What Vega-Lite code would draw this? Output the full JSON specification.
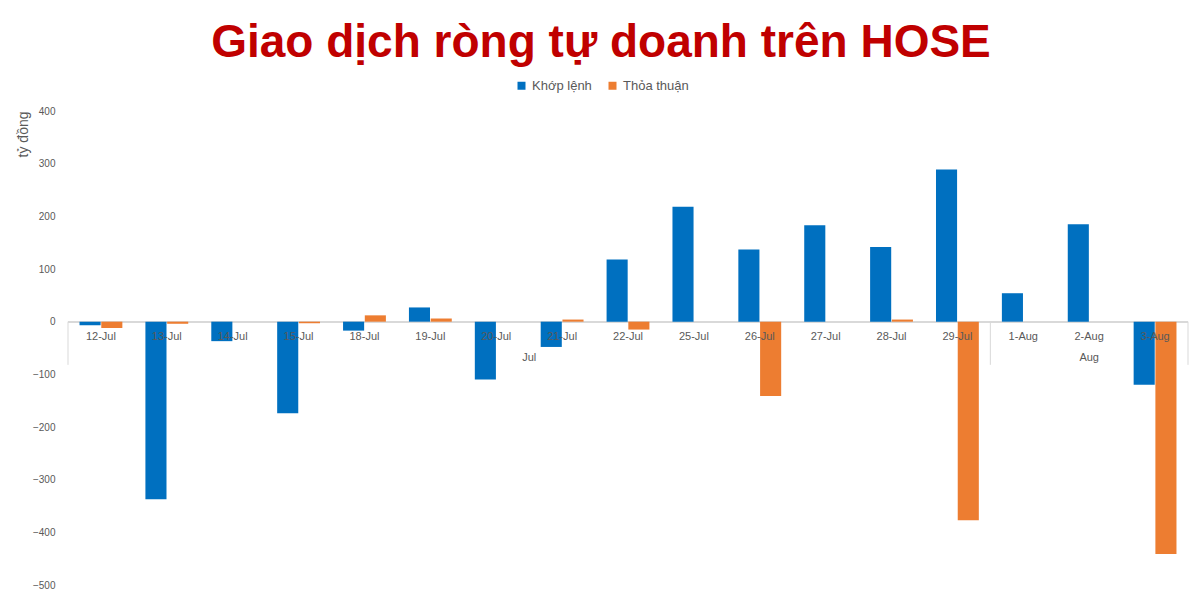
{
  "$schema": "https://vega.github.io/schema/vega-lite/v6.json",
  "autosize": {"type": "none"},
  "padding": {"left": 68, "top": 111, "right": 12, "bottom": 15},
  "width": 1120,
  "height": 474,
  "background": "white",
  "title": {
    "text": "Giao dịch ròng tự doanh trên HOSE",
    "font": "Liberation Sans",
    "fontSize": 46,
    "fontWeight": "bold",
    "color": "#c00000",
    "anchor": "middle",
    "dx": -27,
    "offset": 12
  },
  "config": {
    "view": {"stroke": null},
    "font": "Liberation Sans"
  },
  "datasets": {
    "net": [
      {"date": "12-Jul", "series": "Khớp lệnh", "value": -7},
      {"date": "13-Jul", "series": "Khớp lệnh", "value": -337},
      {"date": "14-Jul", "series": "Khớp lệnh", "value": -37},
      {"date": "15-Jul", "series": "Khớp lệnh", "value": -174},
      {"date": "18-Jul", "series": "Khớp lệnh", "value": -17},
      {"date": "19-Jul", "series": "Khớp lệnh", "value": 27},
      {"date": "20-Jul", "series": "Khớp lệnh", "value": -110},
      {"date": "21-Jul", "series": "Khớp lệnh", "value": -48},
      {"date": "22-Jul", "series": "Khớp lệnh", "value": 118},
      {"date": "25-Jul", "series": "Khớp lệnh", "value": 218},
      {"date": "26-Jul", "series": "Khớp lệnh", "value": 137},
      {"date": "27-Jul", "series": "Khớp lệnh", "value": 183},
      {"date": "28-Jul", "series": "Khớp lệnh", "value": 142},
      {"date": "29-Jul", "series": "Khớp lệnh", "value": 289},
      {"date": "1-Aug", "series": "Khớp lệnh", "value": 54},
      {"date": "2-Aug", "series": "Khớp lệnh", "value": 185},
      {"date": "3-Aug", "series": "Khớp lệnh", "value": -120},
      {"date": "12-Jul", "series": "Thỏa thuận", "value": -12},
      {"date": "13-Jul", "series": "Thỏa thuận", "value": -4},
      {"date": "14-Jul", "series": "Thỏa thuận", "value": 0},
      {"date": "15-Jul", "series": "Thỏa thuận", "value": -3},
      {"date": "18-Jul", "series": "Thỏa thuận", "value": 12},
      {"date": "19-Jul", "series": "Thỏa thuận", "value": 6},
      {"date": "20-Jul", "series": "Thỏa thuận", "value": 0},
      {"date": "21-Jul", "series": "Thỏa thuận", "value": 4},
      {"date": "22-Jul", "series": "Thỏa thuận", "value": -15},
      {"date": "25-Jul", "series": "Thỏa thuận", "value": 0},
      {"date": "26-Jul", "series": "Thỏa thuận", "value": -141},
      {"date": "27-Jul", "series": "Thỏa thuận", "value": 0},
      {"date": "28-Jul", "series": "Thỏa thuận", "value": 4},
      {"date": "29-Jul", "series": "Thỏa thuận", "value": -377},
      {"date": "1-Aug", "series": "Thỏa thuận", "value": 0},
      {"date": "2-Aug", "series": "Thỏa thuận", "value": 0},
      {"date": "3-Aug", "series": "Thỏa thuận", "value": -441}
    ],
    "dividers": [
      {"date": "12-Jul"},
      {"date": "1-Aug"}
    ]
  },
  "data": {"name": "net"},
  "encoding": {
    "x": {
      "field": "date",
      "type": "nominal",
      "sort": null,
      "scale": {"paddingInner": 0, "paddingOuter": 0},
      "axis": null
    }
  },
  "layer": [
    {
      "mark": {"type": "rule", "color": "#d9d9d9", "strokeWidth": 1},
      "encoding": {"x": null, "y": {"datum": 0}}
    },
    {
      "mark": {"type": "bar"},
      "encoding": {
        "xOffset": {
          "field": "series",
          "type": "nominal",
          "sort": ["Khớp lệnh", "Thỏa thuận"],
          "scale": {"paddingOuter": 0.53, "paddingInner": 0.03}
        },
        "y": {
          "field": "value",
          "type": "quantitative",
          "scale": {"domain": [-500, 400], "nice": false, "zero": true},
          "axis": {
            "values": [-500, -400, -300, -200, -100, 0, 100, 200, 300, 400],
            "grid": false,
            "domain": false,
            "ticks": false,
            "labelColor": "#595959",
            "labelFontSize": 10,
            "labelPadding": 13,
            "title": "tỷ đồng",
            "titleColor": "#595959",
            "titleFontSize": 14,
            "titleFontWeight": "normal",
            "titleAnchor": "end",
            "titlePadding": 2
          }
        },
        "color": {
          "field": "series",
          "type": "nominal",
          "sort": ["Khớp lệnh", "Thỏa thuận"],
          "scale": {"domain": ["Khớp lệnh", "Thỏa thuận"], "range": ["#0070c0", "#ed7d31"]},
          "legend": {
            "title": null,
            "orient": "none",
            "direction": "horizontal",
            "legendX": 447,
            "legendY": -32,
            "symbolType": "square",
            "symbolSize": 64,
            "symbolStrokeWidth": 0,
            "labelFontSize": 13,
            "labelColor": "#595959",
            "columnPadding": 14,
            "labelOffset": 4
          }
        }
      }
    },
    {
      "transform": [{"filter": "datum.series === 'Khớp lệnh'"}],
      "mark": {"type": "text", "fontSize": 11, "color": "#595959", "baseline": "middle", "dy": 15},
      "encoding": {
        "y": {"datum": 0},
        "text": {"field": "date"}
      }
    },
    {
      "data": {"name": "dividers"},
      "mark": {"type": "rule", "color": "#d9d9d9", "strokeWidth": 1},
      "encoding": {
        "x": {"field": "date", "type": "nominal", "bandPosition": 0},
        "y": {"datum": 0},
        "y2": {"datum": -82}
      }
    },
    {
      "data": {"values": [{"date": "3-Aug"}]},
      "mark": {"type": "rule", "color": "#d9d9d9", "strokeWidth": 1},
      "encoding": {
        "x": {"field": "date", "type": "nominal", "bandPosition": 1},
        "y": {"datum": 0},
        "y2": {"datum": -82}
      }
    },
    {
      "data": {"values": [{"date": "20-Jul", "month": "Jul"}]},
      "mark": {"type": "text", "fontSize": 11, "color": "#595959", "baseline": "middle", "dy": 36},
      "encoding": {
        "x": {"field": "date", "type": "nominal", "bandPosition": 1},
        "y": {"datum": 0},
        "text": {"field": "month"}
      }
    },
    {
      "data": {"values": [{"date": "2-Aug", "month": "Aug"}]},
      "mark": {"type": "text", "fontSize": 11, "color": "#595959", "baseline": "middle", "dy": 36},
      "encoding": {
        "y": {"datum": 0},
        "text": {"field": "month"}
      }
    }
  ]
}
